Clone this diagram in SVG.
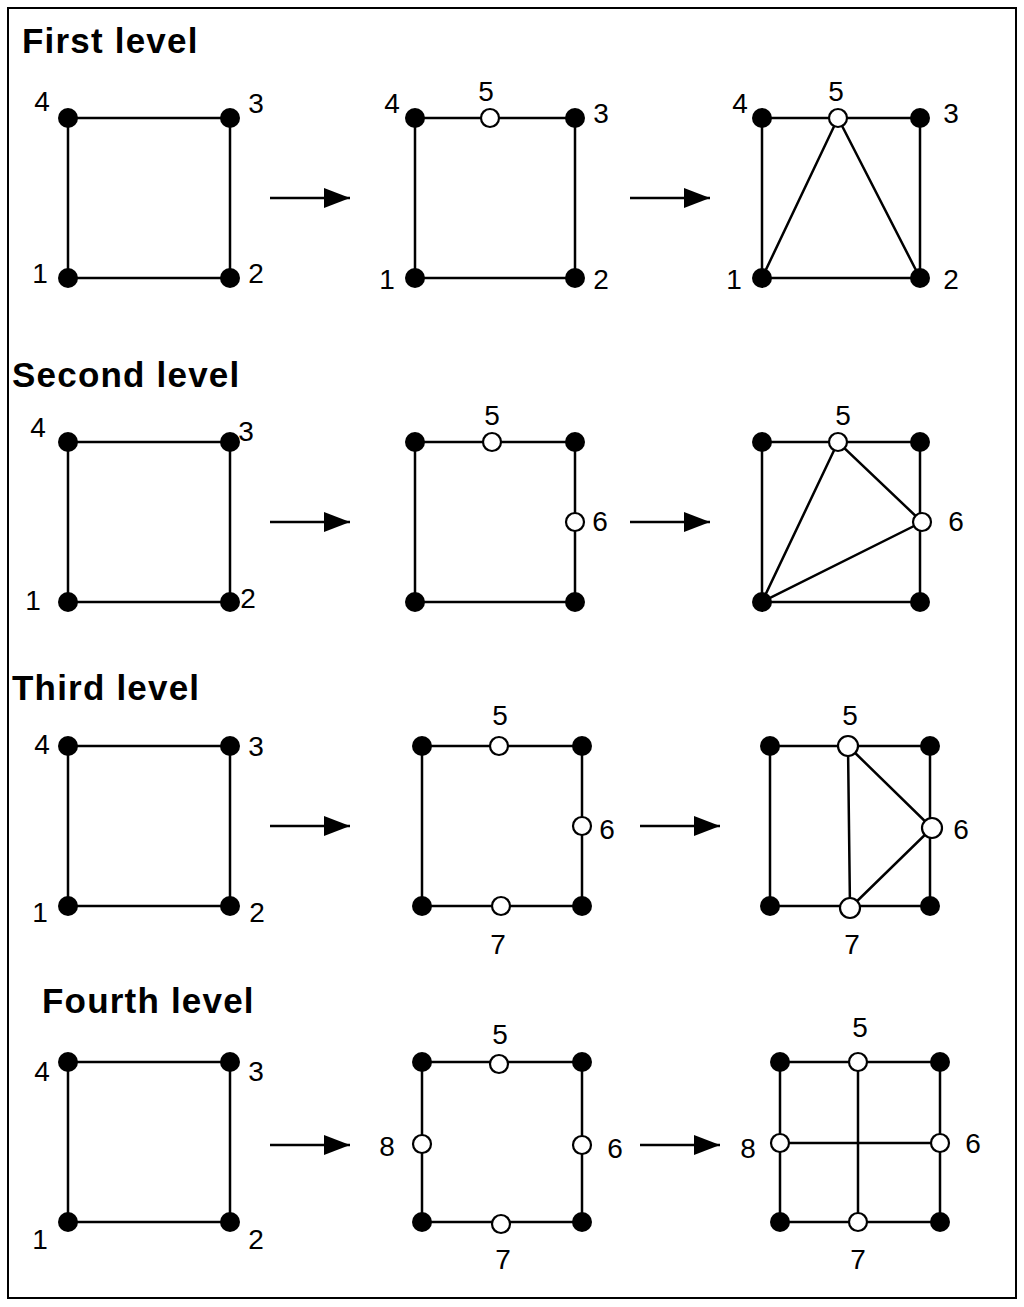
<svg xmlns="http://www.w3.org/2000/svg" width="1024" height="1307" viewBox="0 0 1024 1307">
<defs>
<style>
.e{stroke:#000;stroke-width:2.5;fill:none}
.b{fill:#000}
.o{fill:#fff;stroke:#000;stroke-width:2.2}
.t{font-family:"Liberation Sans",Arial,sans-serif;font-size:35px;font-weight:bold;letter-spacing:1.2px}
.l{font-family:"Liberation Sans",Arial,sans-serif;font-size:28px;text-anchor:middle}
</style>
<marker id="a" viewBox="0 0 26 20" refX="26" refY="10" markerWidth="26" markerHeight="20" markerUnits="userSpaceOnUse" orient="auto"><path d="M0,0 L26,10 L0,20z"/></marker>
</defs>
<rect x="8" y="8" width="1008" height="1290" fill="#fff" stroke="#000" stroke-width="2"/>
<text class="t" x="22" y="53">First level</text>
<text class="t" x="12" y="387">Second level</text>
<text class="t" x="12" y="700">Third level</text>
<text class="t" x="42" y="1013">Fourth level</text>
<g id="connectors" class="e">
<line x1="270" y1="198" x2="350" y2="198" marker-end="url(#a)"/>
<line x1="630" y1="198" x2="710" y2="198" marker-end="url(#a)"/>
<line x1="270" y1="522" x2="350" y2="522" marker-end="url(#a)"/>
<line x1="630" y1="522" x2="710" y2="522" marker-end="url(#a)"/>
<line x1="270" y1="826" x2="350" y2="826" marker-end="url(#a)"/>
<line x1="640" y1="826" x2="720" y2="826" marker-end="url(#a)"/>
<line x1="270" y1="1145" x2="350" y2="1145" marker-end="url(#a)"/>
<line x1="640" y1="1145" x2="720" y2="1145" marker-end="url(#a)"/>
</g>
<g id="r1a">
<rect class="e" x="68" y="118" width="162" height="160"/>
<circle class="b" cx="68" cy="118" r="10"/><circle class="b" cx="230" cy="118" r="10"/><circle class="b" cx="230" cy="278" r="10"/><circle class="b" cx="68" cy="278" r="10"/>
<text class="l" x="42" y="111">4</text><text class="l" x="256" y="113">3</text><text class="l" x="40" y="283">1</text><text class="l" x="256" y="283">2</text>
</g>
<g id="r1b">
<rect class="e" x="415" y="118" width="160" height="160"/>
<circle class="b" cx="415" cy="118" r="10"/><circle class="b" cx="575" cy="118" r="10"/><circle class="b" cx="575" cy="278" r="10"/><circle class="b" cx="415" cy="278" r="10"/>
<circle class="o" cx="490" cy="118" r="9"/>
<text class="l" x="392" y="113">4</text><text class="l" x="486" y="101">5</text><text class="l" x="601" y="123">3</text><text class="l" x="387" y="289">1</text><text class="l" x="601" y="289">2</text>
</g>
<g id="r1c">
<rect class="e" x="762" y="118" width="158" height="160"/>
<polyline class="e" points="762,278 838,118 920,278"/>
<circle class="b" cx="762" cy="118" r="10"/><circle class="b" cx="920" cy="118" r="10"/><circle class="b" cx="920" cy="278" r="10"/><circle class="b" cx="762" cy="278" r="10"/>
<circle class="o" cx="838" cy="118" r="9"/>
<text class="l" x="740" y="113">4</text><text class="l" x="836" y="101">5</text><text class="l" x="951" y="123">3</text><text class="l" x="734" y="289">1</text><text class="l" x="951" y="289">2</text>
</g>
<g id="r2a">
<rect class="e" x="68" y="442" width="162" height="160"/>
<circle class="b" cx="68" cy="442" r="10"/><circle class="b" cx="230" cy="442" r="10"/><circle class="b" cx="230" cy="602" r="10"/><circle class="b" cx="68" cy="602" r="10"/>
<text class="l" x="38" y="437">4</text><text class="l" x="246" y="441">3</text><text class="l" x="33" y="610">1</text><text class="l" x="248" y="608">2</text>
</g>
<g id="r2b">
<rect class="e" x="415" y="442" width="160" height="160"/>
<circle class="b" cx="415" cy="442" r="10"/><circle class="b" cx="575" cy="442" r="10"/><circle class="b" cx="575" cy="602" r="10"/><circle class="b" cx="415" cy="602" r="10"/>
<circle class="o" cx="492" cy="442" r="9"/><circle class="o" cx="575" cy="522" r="9"/>
<text class="l" x="492" y="425">5</text><text class="l" x="600" y="531">6</text>
</g>
<g id="r2c">
<rect class="e" x="762" y="442" width="158" height="160"/>
<polyline class="e" points="762,602 838,442 922,522 762,602"/>
<circle class="b" cx="762" cy="442" r="10"/><circle class="b" cx="920" cy="442" r="10"/><circle class="b" cx="920" cy="602" r="10"/><circle class="b" cx="762" cy="602" r="10"/>
<circle class="o" cx="838" cy="442" r="9"/><circle class="o" cx="922" cy="522" r="9"/>
<text class="l" x="843" y="425">5</text><text class="l" x="956" y="531">6</text>
</g>
<g id="r3a">
<rect class="e" x="68" y="746" width="162" height="160"/>
<circle class="b" cx="68" cy="746" r="10"/><circle class="b" cx="230" cy="746" r="10"/><circle class="b" cx="230" cy="906" r="10"/><circle class="b" cx="68" cy="906" r="10"/>
<text class="l" x="42" y="754">4</text><text class="l" x="256" y="756">3</text><text class="l" x="40" y="922">1</text><text class="l" x="257" y="922">2</text>
</g>
<g id="r3b">
<rect class="e" x="422" y="746" width="160" height="160"/>
<circle class="b" cx="422" cy="746" r="10"/><circle class="b" cx="582" cy="746" r="10"/><circle class="b" cx="582" cy="906" r="10"/><circle class="b" cx="422" cy="906" r="10"/>
<circle class="o" cx="499" cy="746" r="9"/><circle class="o" cx="582" cy="826" r="9"/><circle class="o" cx="501" cy="906" r="9"/>
<text class="l" x="500" y="725">5</text><text class="l" x="607" y="839">6</text><text class="l" x="498" y="954">7</text>
</g>
<g id="r3c">
<rect class="e" x="770" y="746" width="160" height="160" stroke-width="3"/>
<polyline class="e" stroke-width="3" points="848,746 850,908 932,828 848,746"/>
<circle class="b" cx="770" cy="746" r="10"/><circle class="b" cx="930" cy="746" r="10"/><circle class="b" cx="930" cy="906" r="10"/><circle class="b" cx="770" cy="906" r="10"/>
<circle class="o" cx="848" cy="746" r="10" stroke-width="3"/><circle class="o" cx="932" cy="828" r="10" stroke-width="3"/><circle class="o" cx="850" cy="908" r="10" stroke-width="3"/>
<text class="l" x="850" y="725">5</text><text class="l" x="961" y="839">6</text><text class="l" x="852" y="954">7</text>
</g>
<g id="r4a">
<rect class="e" x="68" y="1062" width="162" height="160"/>
<circle class="b" cx="68" cy="1062" r="10"/><circle class="b" cx="230" cy="1062" r="10"/><circle class="b" cx="230" cy="1222" r="10"/><circle class="b" cx="68" cy="1222" r="10"/>
<text class="l" x="42" y="1081">4</text><text class="l" x="256" y="1081">3</text><text class="l" x="40" y="1249">1</text><text class="l" x="256" y="1249">2</text>
</g>
<g id="r4b">
<rect class="e" x="422" y="1062" width="160" height="160"/>
<circle class="b" cx="422" cy="1062" r="10"/><circle class="b" cx="582" cy="1062" r="10"/><circle class="b" cx="582" cy="1222" r="10"/><circle class="b" cx="422" cy="1222" r="10"/>
<circle class="o" cx="499" cy="1064" r="9"/><circle class="o" cx="582" cy="1145" r="9"/><circle class="o" cx="501" cy="1224" r="9"/><circle class="o" cx="422" cy="1144" r="9"/>
<text class="l" x="500" y="1044">5</text><text class="l" x="615" y="1158">6</text><text class="l" x="503" y="1269">7</text><text class="l" x="387" y="1156">8</text>
</g>
<g id="r4c">
<rect class="e" x="780" y="1062" width="160" height="160"/>
<line class="e" x1="858" y1="1062" x2="858" y2="1222"/><line class="e" x1="780" y1="1143" x2="940" y2="1143"/>
<circle class="b" cx="780" cy="1062" r="10"/><circle class="b" cx="940" cy="1062" r="10"/><circle class="b" cx="940" cy="1222" r="10"/><circle class="b" cx="780" cy="1222" r="10"/>
<circle class="o" cx="858" cy="1062" r="9"/><circle class="o" cx="940" cy="1143" r="9"/><circle class="o" cx="858" cy="1222" r="9"/><circle class="o" cx="780" cy="1143" r="9"/>
<text class="l" x="860" y="1037">5</text><text class="l" x="973" y="1153">6</text><text class="l" x="858" y="1269">7</text><text class="l" x="748" y="1158">8</text>
</g>
</svg>
